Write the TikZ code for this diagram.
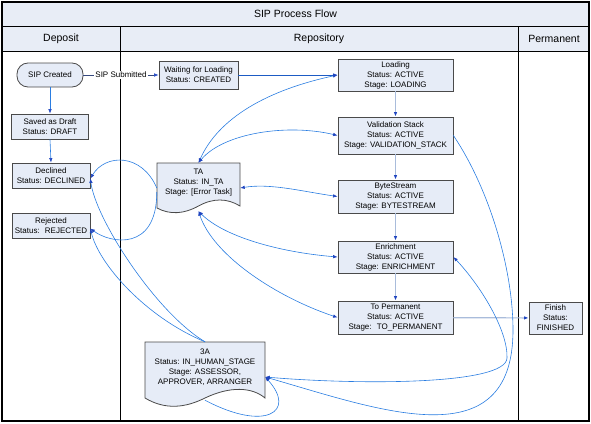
\documentclass[tikz,border=0pt]{standalone}
\usepackage{fontspec}
\setmainfont{Liberation Sans}
\usetikzlibrary{arrows.meta}
\definecolor{boxfill}{HTML}{E6ECF7}
\definecolor{boxline}{HTML}{4A4A4A}
\definecolor{lanefill}{HTML}{E8EDF6}
\definecolor{flowblue}{HTML}{2A7DE1}
\definecolor{tipblue}{HTML}{1F45C0}
\definecolor{darkflow}{HTML}{1D5BC4}
\definecolor{subline}{HTML}{34487E}
\definecolor{stackline}{HTML}{A9BCDB}
\begin{document}
\begin{tikzpicture}[x=1pt,y=-1pt,
    >={Latex[length=4.5pt,width=3.5pt,color=tipblue]},
    box/.style={draw=boxline,fill=boxfill,line width=0.8pt,align=center,inner sep=1pt,
      font=\fontsize{8}{10}\selectfont},
    stackbox/.style={box,minimum width=115pt,minimum height=33pt},
    doctext/.style={align=center,inner sep=1pt,font=\fontsize{8}{10}\selectfont},
    docshape/.style={draw=boxline,fill=boxfill,line width=0.8pt},
    lanehead/.style={font=\fontsize{10.5}{12}\selectfont},
    flow/.style={draw=flowblue,line width=0.6pt},
    stackflow/.style={draw=stackline,line width=1.2pt,->},
    sublabel/.style={fill=white,inner sep=1pt,font=\fontsize{8}{10}\selectfont}]
    \useasboundingbox (0,0) rectangle (591,423);
    \fill[lanefill] (2,2) rectangle (589,51);
    \draw[line width=0.8pt] (2,26) -- (589,26);
    \draw[line width=0.8pt] (2,51) -- (589,51);
    \draw[line width=0.8pt] (120,26) -- (120,421);
    \draw[line width=0.8pt] (518,26) -- (518,421);
    \draw[line width=2pt] (2,2) rectangle (589,421);
    \node[lanehead] (title) at (295.5,14) {SIP Process Flow};
    \node[lanehead] (deposit) at (61,39) {Deposit};
    \node[lanehead] (repository) at (319,39) {Repository};
    \node[lanehead] (permanent) at (554,39) {Permanent};

    \node[box,rounded corners=11pt,minimum width=66pt,minimum height=24pt] (created) at (50,75) {SIP Created};
    \node[box,minimum width=79pt,minimum height=28pt] (waiting) at (198.5,75) {Waiting for Loading\\Status: CREATED};
    \node[box,minimum width=77pt,minimum height=25pt] (saved) at (50,126.5) {Saved as Draft\\Status: DRAFT};
    \node[box,minimum width=78pt,minimum height=25pt] (declined) at (51,175.5) {Declined\\Status: DECLINED};
    \node[box,minimum width=78pt,minimum height=25pt] (rejected) at (51,225.5) {Rejected\\Status:~ REJECTED};

    \node[stackbox,minimum height=32pt] (loading) at (395.5,75) {Loading\\Status: ACTIVE\\Stage: LOADING};
    \node[stackbox,minimum height=37pt] (valid) at (395.5,135.5) {Validation Stack\\Status: ACTIVE\\Stage: VALIDATION\_STACK};
    \node[stackbox] (byte) at (395.5,196.5) {ByteStream\\Status: ACTIVE\\Stage: BYTESTREAM};
    \node[stackbox,minimum height=32pt] (enrich) at (395.5,257) {Enrichment\\Status: ACTIVE\\Stage: ENRICHMENT};
    \node[stackbox] (toperm) at (395.5,317.5) {To Permanent\\Status: ACTIVE\\Stage:~ TO\_PERMANENT};
    \node[box,minimum width=53pt,minimum height=32pt] (finish) at (555.5,318) {Finish\\Status:\\FINISHED};

    \draw[docshape] (157,163) -- (240,163) -- (240,206) .. controls (227,198) and (213,198) .. (198.5,206)
      .. controls (184,214) and (170,215) .. (157,208) -- cycle;
    \node[doctext,minimum width=83pt,minimum height=40pt] (ta) at (198.5,183) {TA\\Status: IN\_TA\\Stage: [Error Task]};
    \draw[docshape] (145,342) -- (265,342) -- (265,398) .. controls (252,387) and (230,386) .. (205,398)
      .. controls (185,408) and (165,410) .. (145,398) -- cycle;
    \node[doctext,minimum width=120pt,minimum height=50pt] (human) at (205,367)
      {3A\\Status: IN\_HUMAN\_STAGE\\Stage: ASSESSOR,\\APPROVER, ARRANGER};

    \draw[flow,->] (created.south) -- (saved.north);
    \draw[flow,->] (saved.south) -- (declined.north);
    \draw[draw=subline,line width=0.6pt,->] (created) -- node[sublabel] {SIP Submitted} (waiting);
    \draw[draw=darkflow,line width=0.8pt,->] (waiting) -- (loading);
    \foreach \a/\b in {loading/valid,valid/byte,byte/enrich,enrich/toperm}
      \draw[stackflow] (\a) -- (\b);
    \draw[stackflow] (toperm) -- (finish);

    \draw[flow,<->] (ta.north) .. controls +(20,-45) and +(-70,15) .. (loading.west);
    \draw[flow,<->] (ta.north) .. controls +(25,-30) and +(-50,-12) .. (valid.west);
    \draw[flow,<->] ([yshift=-5pt]ta.east) .. controls +(30,-5) and +(-35,-5) .. (byte.west);
    \draw[flow,<->] ([yshift=-8pt]ta.south) .. controls +(25,25) and +(-60,-5) .. (enrich.west);
    \draw[flow,<->] ([yshift=-8pt]ta.south) .. controls +(15,45) and +(-60,-20) .. (toperm.west);
    \draw[flow,->] ([yshift=-5pt]ta.west) .. controls +(-15,-35) and +(15,-25) .. ([yshift=-3pt]declined.east);
    \draw[flow,->] ([yshift=-9pt]ta.west) .. controls +(0,60) and +(20,15) .. ([yshift=-3pt]rejected.east);
    \draw[flow,->] (human.north) .. controls +(-50,-30) and +(5,40) .. ([yshift=-3pt]declined.east);
    \draw[flow,->] (human.north) .. controls +(-60,-25) and +(8,35) .. ([yshift=-3pt]rejected.east);
    \draw[flow,->] (valid.east) .. controls (490,190) and (513,270) .. (513,330)
      .. controls (513,460) and (380,410) .. ([yshift=-10pt]human.east);
    \draw[flow,<->] (enrich.east) .. controls (480,285) and (508,330) .. (507,358)
      .. controls (506,385) and (360,385) .. ([yshift=-10pt]human.east);
    \draw[flow,->] ([yshift=-8pt]human.south) .. controls (265,432) and (297,412) .. ([yshift=-10pt]human.east);
\end{tikzpicture}
\end{document}
